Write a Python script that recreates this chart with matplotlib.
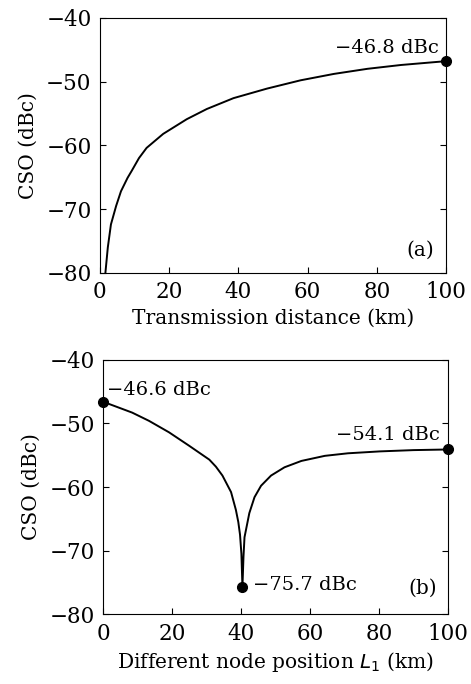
import numpy as np
import matplotlib
matplotlib.use("Agg")
import matplotlib.pyplot as plt

# (a) CSO vs transmission distance
dist_km = [1.6, 2.3, 3.2, 4.7, 6.1, 8.0, 9.2, 11.3, 13.5, 18.3, 25.1, 30.9, 38.6,
           48.3, 58.0, 67.6, 77.3, 87.0, 100]
cso_a = [-80.0, -76.0, -72.4, -69.5, -67.2, -65.1, -64.0, -62.0, -60.4, -58.2, -55.9,
         -54.3, -52.6, -51.1, -49.8, -48.8, -48.0, -47.4, -46.8]

# (b) CSO vs node position L1
node_km = [0, 8.4, 13.3, 19.1, 24.9, 30.8, 32.7, 34.6, 37.1, 38.5, 39.2, 39.7, 40.1,
           40.4, 40.7, 41.0, 42.4, 43.9, 45.8, 48.7, 52.6, 57.5, 64.3, 71.0, 80.3,
           90.0, 100]
cso_b = [-46.6, -48.3, -49.6, -51.4, -53.5, -55.7, -56.8, -58.2, -60.8, -63.6, -65.5,
         -67.5, -70.5, -75.7, -71.0, -67.9, -64.1, -61.6, -59.8, -58.2, -56.9, -55.9,
         -55.1, -54.7, -54.4, -54.2, -54.1]

peak_a = (100, -46.8)
peaks_b = [(0, -46.6), (40.4, -75.7), (100, -54.1)]

plt.rcParams['font.family'] = ['DejaVu Serif']
plt.rcParams['font.size'] = 13

fig = plt.figure(figsize=(4.71, 6.84), dpi=100)
ax1 = fig.add_axes([0.212, 0.601, 0.735, 0.373])
ax2 = fig.add_axes([0.219, 0.102, 0.732, 0.372])


def style_axes(ax, xlabel):
    ax.set_xlim(0, 100)
    ax.set_ylim(-80, -40)
    ax.set_xticks([0, 20, 40, 60, 80, 100])
    ax.set_yticks([-80, -70, -60, -50, -40])
    ax.tick_params(direction='in', length=4, width=0.8, right=True, top=False,
                   labelsize=15.5, pad=6)
    ax.set_ylabel('CSO (dBc)', fontsize=14.5, labelpad=6)
    ax.set_xlabel(xlabel, fontsize=14.5, labelpad=4)
    for s in ax.spines.values():
        s.set_linewidth(0.8)


ax1.plot(dist_km, cso_a, color='black', lw=1.4)
ax1.plot(*peak_a, 'o', color='black', ms=7, clip_on=False, zorder=5)
ax1.text(98, -44.7, '\u221246.8 dBc', ha='right', va='center', fontsize=14)
ax1.text(92.5, -76.4, '(a)', ha='center', va='center', fontsize=14.5)
style_axes(ax1, 'Transmission distance (km)')

ax2.plot(node_km, cso_b, color='black', lw=1.4)
for x, y in peaks_b:
    ax2.plot(x, y, 'o', color='black', ms=7, clip_on=False, zorder=5)
ax2.text(1.2, -44.8, '\u221246.6 dBc', ha='left', va='center', fontsize=14)
ax2.text(97.8, -51.9, '\u221254.1 dBc', ha='right', va='center', fontsize=14)
ax2.text(43.6, -75.4, '\u221275.7 dBc', ha='left', va='center', fontsize=14)
ax2.text(92.6, -75.9, '(b)', ha='center', va='center', fontsize=14.5)
style_axes(ax2, 'Different node position $L_1$ (km)')

fig.savefig('out.png', dpi=100)
